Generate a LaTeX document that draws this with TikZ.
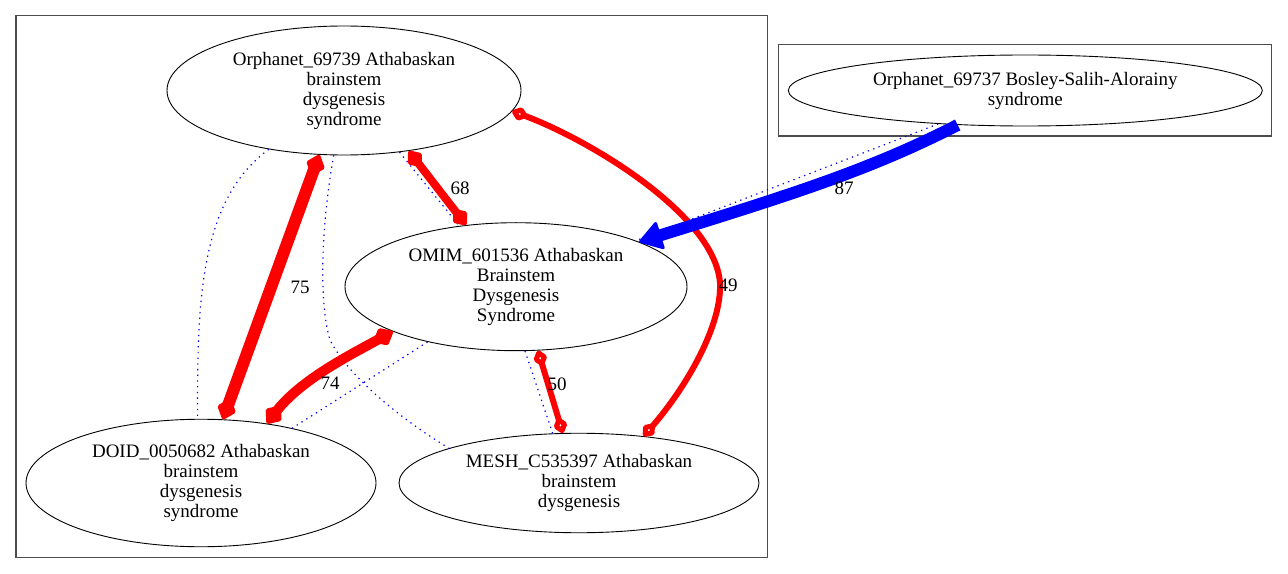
\documentclass[tikz,border=0pt]{standalone}
\usepackage{fontspec}
\setmainfont{Liberation Serif}
\usetikzlibrary{arrows.meta,shapes.geometric}
\begin{document}
\begin{tikzpicture}[x=1bp,y=-1bp,
  ell/.style={draw=black,line width=0.9bp,ellipse,inner sep=0pt,align=center,
    font=\fontsize{19bp}{20bp}\selectfont},
  lbl/.style={inner sep=0pt,font=\fontsize{19bp}{20bp}\selectfont},
  clusterbox/.style={draw=black!70,line width=1.4bp},
  sim/.style={draw=blue,line width=1.2bp,dash pattern=on 1.3bp off 4.4bp},
  rel/.style={draw=red,line cap=butt},
  bigdia/.style={arrows={Diamond[length=24bp,width=20bp,line width=4bp,round]-Diamond[length=24bp,width=20bp,line width=4bp,round]}},
  middia/.style={arrows={Diamond[length=22bp,width=18bp,line width=4bp,round]-Diamond[length=22bp,width=18bp,line width=4bp,round]}},
  smalldia/.style={arrows={Diamond[open,length=19bp,width=15bp,line width=5bp,round]-Diamond[open,length=19bp,width=15bp,line width=5bp,round]}},
  sameas/.style={draw=blue,line width=12bp,line cap=butt,arrows={-Triangle[length=24bp,width=30bp,line width=3bp,round]}}
]
\useasboundingbox (0,0) rectangle (1288,574);
% clusters
\draw[clusterbox] (16,15.7) rectangle (767.7,557.5);
\draw[clusterbox] (778.3,44.3) rectangle (1271.7,136);
% nodes
\node[ell,minimum width=354bp,minimum height=129bp] (orph1) at (344,90.5)
  {Orphanet\_69739 Athabaskan\\brainstem\\dysgenesis\\syndrome};
\node[ell,minimum width=474bp,minimum height=71bp] (orph2) at (1025.3,90.5)
  {Orphanet\_69737 Bosley-Salih-Alorainy\\syndrome};
\node[ell,minimum width=342bp,minimum height=128bp] (omim) at (516,286.7)
  {OMIM\_601536 Athabaskan\\Brainstem\\Dysgenesis\\Syndrome};
\node[ell,minimum width=350bp,minimum height=127.5bp] (doid) at (201,483)
  {DOID\_0050682 Athabaskan\\brainstem\\dysgenesis\\syndrome};
\node[ell,minimum width=360bp,minimum height=99.5bp] (mesh) at (579,483)
  {MESH\_C535397 Athabaskan\\brainstem\\dysgenesis};
% helper coordinates
\coordinate (m49) at (720,283);
\coordinate (md) at (330,340);
% dotted similarity edges
\draw[sim] (orph1.-142.7) .. controls (200,200) and (197,300) .. (doid.93.6);
\draw[sim] (orph1.-99.7) .. controls (322,220) and (318,300) .. (md)
  .. controls (350,380) and (410,425) .. (mesh.165);
\draw[sim] (orph1.-48.7) -- (omim.133.9);
\draw[sim] (omim.-148.5) -- (doid.31.6);
\draw[sim] (omim.-82) -- (mesh.118.8);
\draw[sim] (orph2.-159.6) -- (omim.21);
% red relations
\draw[rel,bigdia,line width=12bp] (orph1.-111.2) -- (doid.71.6);
\draw[rel,middia,line width=8bp] (orph1.-43) -- (omim.129.2);
\draw[rel,bigdia,line width=10bp] (omim.-160) .. controls (350,355) and (300,380) .. (doid.42.8);
\draw[rel,smalldia,line width=6bp] (omim.-71.7) -- (mesh.108.9);
\draw[rel,smalldia,line width=6bp] (orph1.-7.4) .. controls (590,140) and (715,215) .. (m49)
  .. controls (722,330) and (680,395) .. (mesh.36.4);
% blue relation
\draw[sameas] (orph2.-153.6) .. controls (870,170) and (790,195) .. (omim.20.5);
% labels
\node[lbl] (l68) at (460,188) {68};
\node[lbl] (l75) at (300,287) {75};
\node[lbl] (l49) at (728,285) {49};
\node[lbl] (l74) at (330,383) {74};
\node[lbl] (l50) at (557,384) {50};
\node[lbl] (l87) at (844,188) {87};
\end{tikzpicture}
\end{document}
